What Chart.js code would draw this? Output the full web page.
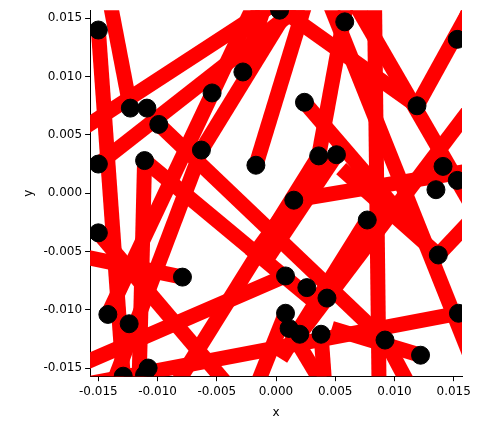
<!DOCTYPE html>
<html>
<head>
<meta charset="utf-8">
<script src="https://cdn.jsdelivr.net/npm/chart.js@4.4.0/dist/chart.umd.min.js"></script>
<style>
  html, body { margin: 0; padding: 0; background: #fff; }
  #wrap { width: 477px; height: 432px; }
</style>
</head>
<body>
<div id="wrap"><canvas id="chart"></canvas></div>
<script>
// Segment endpoints [x1, y1, x2, y2]
const SEGMENTS = [
  [-0.0123, 0.0073, -0.0144, 0.0184],
  [-0.0150, 0.0140, -0.0129, -0.0157],
  [-0.0182, 0.0043, 0.0013, 0.0172],
  [-0.0150, 0.0025, 0.0021, 0.0161],
  [-0.0099, 0.0059, 0.0092, -0.0126],
  [-0.0016, 0.0167, -0.0142, -0.0104],
  [-0.0063, 0.0037, 0.0021, 0.0176],
  [-0.0063, 0.0037, -0.0136, -0.0159],
  [-0.0028, 0.0104, -0.0006, 0.0172],
  [-0.0017, 0.0024, 0.0026, 0.0167],
  [-0.0150, -0.0034, -0.0038, -0.0168],
  [-0.0079, -0.0072, -0.0174, -0.0052],
  [0.0008, -0.0071, -0.0174, -0.0151],
  [0.0154, -0.0103, -0.0182, -0.0168],
  [-0.0111, 0.0028, -0.0116, -0.0177],
  [-0.0111, 0.0028, 0.0030, -0.0091],
  [-0.0089, -0.0172, 0.0036, 0.0032],
  [0.0119, 0.0075, -0.0021, 0.0176],
  [0.0062, 0.0176, 0.0036, 0.0032],
  [0.0024, 0.0078, 0.0123, -0.0039],
  [0.0083, 0.0176, 0.0087, -0.0168],
  [0.0059, 0.0176, 0.0174, -0.0026],
  [0.0119, 0.0075, 0.0169, 0.0167],
  [0.0153, 0.0132, 0.0170, 0.0175],
  [0.0174, 0.0086, 0.0020, -0.0121],
  [0.0051, 0.0033, -0.0010, -0.0060],
  [0.0015, -0.0006, 0.0174, 0.0021],
  [0.0015, -0.0006, -0.0021, -0.0056],
  [0.0077, -0.0023, 0.0004, -0.0142],
  [0.0040, 0.0176, 0.0165, -0.0142],
  [0.0137, -0.0053, 0.0174, -0.0013],
  [0.0137, -0.0053, 0.0055, 0.0021],
  [0.0122, -0.0139, 0.0047, -0.0116],
  [0.0092, -0.0126, 0.0114, -0.0168],
  [0.0038, -0.0121, 0.0042, -0.0177],
  [0.0008, -0.0103, -0.0021, -0.0177],
  [0.0011, -0.0116, 0.0047, -0.0177],
];

// Black markers
const DOT_X = [-0.0150, -0.0123, -0.0109, -0.0099, -0.0054, -0.0028, 0.0003, -0.0063, -0.0017, 0.0024,
  0.0058, 0.0036, 0.0051, 0.0015, 0.0077, 0.0119, 0.0141, 0.0135, 0.0153, 0.0153,
  -0.0150, -0.0111, -0.0150, -0.0079, -0.0142, -0.0124, -0.0129, -0.0108, -0.0111, 0.0008,
  0.0008, 0.0026, 0.0043, 0.0011, 0.0020, 0.0038, 0.0092, 0.0122, 0.0137, 0.0154];
const DOT_Y = [0.0140, 0.0073, 0.0073, 0.0059, 0.0086, 0.0104, 0.0157, 0.0037, 0.0024, 0.0078,
  0.0147, 0.0032, 0.0033, -0.0006, -0.0023, 0.0075, 0.0023, 0.0003, 0.0011, 0.0132,
  0.0025, 0.0028, -0.0034, -0.0072, -0.0104, -0.0112, -0.0157, -0.0150, -0.0156, -0.0071,
  -0.0103, -0.0081, -0.0090, -0.0116, -0.0121, -0.0121, -0.0126, -0.0139, -0.0053, -0.0103];

const TICKS = [-0.015, -0.010, -0.005, 0.000, 0.005, 0.010, 0.015];
const AXIS_MIN = -0.0157;
const AXIS_MAX = 0.0157;

const datasets = SEGMENTS.map((s) => ({
  type: "line",
  data: [{ x: s[0], y: s[1] }, { x: s[2], y: s[3] }],
  borderColor: "#ff0000",
  borderWidth: 15,
  borderCapStyle: "butt",
  pointRadius: 0,
  order: 2,
}));

datasets.push({
  type: "scatter",
  data: DOT_X.map((x, i) => ({ x, y: DOT_Y[i] })),
  backgroundColor: "#000",
  borderColor: "#000",
  pointRadius: 9,
  order: 1,
});

function axis(title) {
  return {
    type: "linear",
    min: AXIS_MIN,
    max: AXIS_MAX,
    afterBuildTicks: (a) => { a.ticks = TICKS.map((v) => ({ value: v })); },
    ticks: {
      color: "#000",
      font: { family: "DejaVu Sans", size: 12 },
      callback: (v) => (Math.abs(v) < 1e-9 ? 0 : v).toFixed(3),
      maxRotation: 0,
      autoSkip: false,
    },
    grid: { drawOnChartArea: false, drawTicks: true, tickLength: 5, color: "#000" },
    border: { color: "#000", width: 1 },
    title: { display: true, text: title, color: "#000", font: { family: "DejaVu Sans", size: 12 } },
  };
}

new Chart(document.getElementById("chart"), {
  type: "scatter",
  data: { datasets },
  options: {
    responsive: true,
    maintainAspectRatio: false,
    animation: false,
    clip: true,
    layout: { padding: { left: 18, right: 15, top: 10, bottom: 8 } },
    plugins: { legend: { display: false }, tooltip: { enabled: false } },
    scales: { x: axis("x"), y: axis("y") },
  },
});
</script>
</body>
</html>
